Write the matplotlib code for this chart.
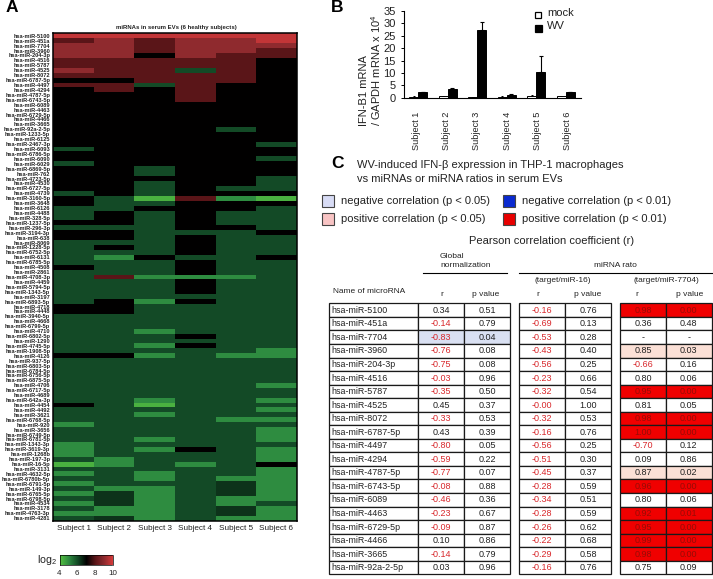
import matplotlib
matplotlib.use('Agg')
import numpy as np
import matplotlib.pyplot as plt
from matplotlib.colors import LinearSegmentedColormap
from matplotlib.patches import Rectangle

plt.rcParams['font.family'] = ['Liberation Sans', 'DejaVu Sans']
plt.rcParams['mathtext.default'] = 'regular'

W, H = 713, 579

# panel A
mirnas = ['5100', '451a', '7704', '3960', '204-3p', '4516', '5787', '4525', '8072', '6787-5p',
          '4497', '4294', '4787-5p', '6743-5p', '6089', '4463', '6729-5p', '4466', '3665', '92a-2-5p',
          '1233-5p', '6125', '2467-3p', '6093', '6786-5p', '6090', '6029', '6869-5p', '762', '4723-5p',
          '4530', '6727-5p', '4739', '3160-5p', '3648', '6126', '4488', '328-5p', '1237-5p', '296-3p',
          '3194-3p', '638', '8069', '1228-5p', '6752-5p', '6131', '6785-5p', '4508', '2861', '4708-3p',
          '4459', '5794-5p', '1343-5p', '3197', '6893-5p', '4718', '4448', '3940-5p', '4668', '6799-5p',
          '4710', '6802-5p', '1290', '4745-5p', '1908-5p', '4126', '937-5p', '6803-5p', '6784-5p', '6756-5p',
          '6875-5p', '4706', '6717-5p', '4689', '642a-3p', '4454', '4492', '3621', '6768-5p', '920',
          '3656', '6749-5p', '6781-5p', '1343-3p', '3619-3p', '1268b', '197-3p', '16-5p', '3131', '4632-5p',
          '6780b-5p', '6791-5p', '149-3p', '6765-5p', '6798-5p', '4534', '3178', '4763-3p', '4281']

subj1 = [9.7, 8, 9, 9, 9, 8, 8, 9, 8, 7,
         8, 7, 7, 7, 7, 7, 7, 7, 7, 7,
         7, 7, 7, 6, 7, 7, 6, 7, 7, 7,
         7, 7, 6, 7, 7, 6, 6, 6, 7, 6,
         7, 7, 6, 6, 6, 6, 6, 7, 6, 6,
         6, 6, 6, 6, 6, 7, 7, 6, 6, 6,
         6, 6, 6, 6, 6, 7, 6, 6, 6, 6,
         6, 6, 6, 6, 6, 7, 6, 6, 6, 5,
         6, 6, 6, 5, 5, 5, 6, 4.3, 6, 5,
         6, 5, 6, 5, 6, 5, 6, 5, 6]
subj2 = [9.7, 9, 9, 9, 9, 8, 8, 8, 8, 7,
         8, 8, 7, 7, 7, 7, 7, 7, 7, 7,
         7, 7, 7, 7, 7, 7, 7, 7, 7, 7,
         7, 7, 7, 6, 6, 6, 7, 7, 7, 6,
         7, 7, 6, 7, 6, 5, 6, 6, 6, 8,
         6, 6, 6, 6, 7, 7, 7, 6, 6, 6,
         6, 6, 6, 6, 6, 7, 6, 6, 6, 6,
         6, 6, 6, 6, 6, 6, 6, 6, 6, 6,
         6, 6, 6, 6, 6, 6, 5, 5, 6, 6,
         6, 6, 5, 6.3, 6.3, 6.3, 5, 5, 6.3]
subj3 = [9.7, 8, 8, 8, 7, 8, 8, 8, 8, 8,
         6, 7, 7, 7, 7, 7, 7, 7, 7, 7,
         7, 7, 7, 7, 7, 7, 7, 6, 6, 7,
         6, 6, 6, 4.3, 6, 7, 6, 6, 6, 6,
         6, 6, 6, 6, 6, 7, 6, 6, 6, 5,
         6, 6, 6, 6, 5, 6, 6, 6, 6, 6,
         5, 6, 6, 5, 6, 5, 6, 6, 6, 6,
         6, 6, 6, 6, 5, 4.3, 6, 5, 6, 6,
         6, 6, 5, 6, 5, 6, 6, 6, 6, 5,
         5, 6, 5, 5, 5, 5, 5, 5, 5]
subj4 = [9.7, 9, 9, 9, 9, 8, 8, 6, 8, 8,
         8, 8, 8, 8, 7, 7, 7, 7, 7, 7,
         7, 7, 7, 7, 7, 7, 7, 7, 7, 7,
         7, 7, 7, 8, 7, 7, 7, 7, 7, 7,
         6, 7, 7, 7, 7, 6, 7, 7, 7, 5,
         7, 7, 7, 6, 7, 6, 6, 6, 6, 6,
         6, 7, 6, 7, 6, 6, 6, 6, 6, 6,
         6, 6, 6, 6, 6, 6, 6, 6, 6, 6,
         6, 6, 6, 6, 7, 6, 6, 5, 6, 6,
         6, 6, 6, 6, 6, 6, 6, 6, 6]
subj5 = [9.7, 9, 9, 9, 8, 8, 8, 8, 8, 8,
         7, 7, 7, 7, 7, 7, 7, 7, 7, 6,
         7, 7, 7, 7, 7, 7, 7, 7, 7, 7,
         7, 6, 7, 5, 7, 7, 6, 6, 6, 7,
         6, 6, 6, 6, 6, 6, 6, 6, 6, 5,
         6, 6, 6, 6, 6, 6, 6, 6, 6, 6,
         6, 6, 6, 6, 6, 5, 6, 6, 6, 6,
         6, 6, 6, 6, 6, 6, 6, 6, 5, 6,
         6, 6, 6, 6, 6, 6, 6, 6, 6, 6,
         5, 6.3, 6.3, 6.3, 5, 5, 6.3, 6.3, 5]
subj6 = [9.7, 9.7, 9, 8, 8, 7, 7, 7, 7, 7,
         7, 7, 7, 7, 7, 7, 7, 7, 7, 7,
         7, 7, 6, 7, 7, 6, 7, 7, 7, 6,
         6, 6, 7, 4.3, 7, 6, 6, 6, 6, 6,
         7, 6, 6, 6, 6, 7, 6, 6, 6, 6,
         6, 6, 6, 6, 6, 6, 6, 6, 6, 6,
         6, 6, 6, 6, 5, 5, 6, 6, 6, 6,
         6, 5, 6, 6, 5, 6, 5, 6, 5, 6,
         5, 5, 5, 6, 5, 5, 5, 7, 5, 5,
         5, 5, 5, 5, 5, 6, 5, 5, 5]
subjects = ['Subject 1', 'Subject 2', 'Subject 3', 'Subject 4', 'Subject 5', 'Subject 6']

# panel B
mock = [0.4, 0.6, 0.3, 0.4, 0.7, 0.7]
mock_err = [0.1, 0.1, 0.1, 0.1, 0.3, 0.1]
wv = [2.1, 3.4, 27.2, 1.2, 10.3, 2.2]
wv_err = [0.4, 0.6, 3.5, 0.3, 6.5, 0.3]

# panel C
table_names = ['5100', '451a', '7704', '3960', '204-3p', '4516', '5787', '4525', '8072', '6787-5p',
               '4497', '4294', '4787-5p', '6743-5p', '6089', '4463', '6729-5p', '4466', '3665', '92a-2-5p']
r_global = ['0.34', '-0.14', '-0.83', '-0.76', '-0.75', '-0.03', '-0.35', '0.45', '-0.33', '0.43',
            '-0.80', '-0.59', '-0.77', '-0.08', '-0.46', '-0.23', '-0.09', '0.10', '-0.14', '0.03']
p_global = ['0.51', '0.79', '0.04', '0.08', '0.08', '0.96', '0.50', '0.37', '0.53', '0.39',
            '0.05', '0.22', '0.07', '0.88', '0.36', '0.67', '0.87', '0.86', '0.79', '0.96']
r_16 = ['-0.16', '-0.69', '-0.53', '-0.43', '-0.56', '-0.23', '-0.32', '-0.00', '-0.32', '-0.16',
        '-0.56', '-0.51', '-0.45', '-0.28', '-0.34', '-0.28', '-0.26', '-0.22', '-0.29', '-0.16']
p_16 = ['0.76', '0.13', '0.28', '0.40', '0.25', '0.66', '0.54', '1.00', '0.53', '0.76',
        '0.25', '0.30', '0.37', '0.59', '0.51', '0.59', '0.62', '0.68', '0.58', '0.76']
r_7704 = ['0.98', '0.36', '-', '0.85', '-0.66', '0.80', '0.95', '0.81', '0.98', '1.00',
          '-0.70', '0.09', '0.87', '0.96', '0.80', '0.92', '0.95', '0.99', '0.98', '0.75']
p_7704 = ['0.00', '0.48', '-', '0.03', '0.16', '0.06', '0.00', '0.05', '0.00', '0.00',
          '0.12', '0.86', '0.02', '0.00', '0.06', '0.01', '0.00', '0.00', '0.00', '0.09']
shade_global = ['', '', 'neg', '', '', '', '', '', '', '',
                '', '', '', '', '', '', '', '', '', '']
shade_7704 = ['red', '', '', 'pos', '', '', 'red', '', 'red', 'red',
              '', '', 'pos', 'red', '', 'red', 'red', 'red', 'red', '']

fig = plt.figure(figsize=(W / 100, H / 100), dpi=100)


def px_axes(x0, y0, x1, y1):
    return fig.add_axes([x0 / W, 1 - y1 / H, (x1 - x0) / W, (y1 - y0) / H])


# overlay in pixel coordinates for the loose text and the table
ov = fig.add_axes([0, 0, 1, 1], zorder=5)
ov.set_xlim(0, W)
ov.set_ylim(H, 0)
ov.axis('off')
ov.patch.set_alpha(0)

for letter, x, y in [('A', 6, 8), ('B', 331, 7), ('C', 331, 163)]:
    ov.text(x, y, letter, fontsize=12.5, fontweight='bold', ha='left', va='center')

# A: heatmap
cmap = LinearSegmentedColormap.from_list('gbr', [
    (0, '#55c040'), (1 / 6, '#2e8b40'), (2 / 6, '#134a26'), (3 / 6, '#000000'),
    (4 / 6, '#5a1518'), (5 / 6, '#8e2a2e'), (1, '#d63a3a')])
heat = np.array([subj1, subj2, subj3, subj4, subj5, subj6]).T
ax = px_axes(53.3, 33.3, 296.7, 520.7)
ax.pcolormesh(heat, cmap=cmap, vmin=4, vmax=10)
ax.set_ylim(len(mirnas), 0)
ax.set_xticks(np.arange(6) + 0.5)
ax.set_xticklabels(subjects, fontsize=5.9, color='#222222')
ax.set_yticks(np.arange(len(mirnas)) + 0.5)
ax.set_yticklabels(['hsa-miR-' + m for m in mirnas], fontsize=4.1, fontweight='bold', color='#222222')
ax.tick_params(length=0, pad=2.2)
ax.tick_params(axis='x', pad=3)
for s in ax.spines.values():
    s.set_linewidth(1.1)
ov.text(176, 27, 'miRNAs in serum EVs (6 healthy subjects)', fontsize=4.35, fontweight='bold',
        ha='center', va='center', color='#222222')

cax = px_axes(59.5, 555, 112.5, 565)
cax.imshow(np.linspace(4, 10, 256)[None, :], cmap=cmap, vmin=4, vmax=10, aspect='auto', extent=[4, 10, 0, 1])
cax.set_yticks([])
cax.set_xticks([4, 6, 8, 10])
cax.tick_params(length=0, labelsize=5.8, pad=3.5, labelcolor='#222222')
for s in cax.spines.values():
    s.set_linewidth(0.5)
ov.text(37, 560, 'log$_2$', fontsize=7.6, ha='left', va='center', color='#222222')

# B: bars
bx = px_axes(404.3, 11, 580.7, 97.7)
pos = np.arange(6)
bw = 0.305
bx.bar(pos - bw / 2, mock, bw, color='white', edgecolor='black', linewidth=0.7,
       yerr=[np.zeros(6), mock_err], error_kw=dict(ecolor='black', lw=0.7, capsize=1, capthick=0.7))
bx.bar(pos + bw / 2, wv, bw, color='black', edgecolor='black', linewidth=0.7,
       yerr=[np.zeros(6), wv_err], error_kw=dict(ecolor='black', lw=0.8, capsize=1.2, capthick=0.8))
bx.set_xlim(-0.4746, 5.505)
bx.set_ylim(0, 35)
bx.set_yticks(np.arange(0, 36, 5))
bx.set_xticks(pos * 1.027 - 0.068)
bx.set_xticklabels(subjects, rotation=90, fontsize=6.6, color='#222222')
bx.tick_params(axis='y', labelsize=8, length=2, width=0.7, pad=4, labelcolor='#222222')
bx.tick_params(axis='x', length=0, pad=10)
bx.spines[['top', 'right']].set_visible(False)
for s in ['left', 'bottom']:
    bx.spines[s].set_linewidth(0.8)
ov.text(364, 126, 'IFN-B1 mRNA', fontsize=8, rotation=90, ha='center', va='bottom', color='#222222')
ov.text(376, 126, '/ GAPDH mRNA x 10$^4$', fontsize=8, rotation=90, ha='center', va='bottom', color='#222222')
ov.add_patch(Rectangle((535, 12), 6, 6, facecolor='white', edgecolor='black', linewidth=0.9))
ov.add_patch(Rectangle((534.5, 25), 7, 7, facecolor='black', edgecolor='black', linewidth=0.9))
ov.text(547, 12.5, 'mock', fontsize=8, ha='left', va='center', color='#222222')
ov.text(547, 26, 'WV', fontsize=8, ha='left', va='center', color='#222222')

# C: heading and key
ov.text(357, 165.5, 'WV-induced IFN-\u03b2 expression in THP-1 macrophages', fontsize=8, ha='left', va='center', color='#222222')
ov.text(357, 179.5, 'vs miRNAs or miRNA ratios in serum EVs', fontsize=8, ha='left', va='center', color='#222222')
key = [(322, 195, '#d8dcf5', 'negative correlation (p < 0.05)'),
       (322, 213, '#f8c4c4', 'positive correlation (p < 0.05)'),
       (502.5, 195, '#0a2ad0', 'negative correlation (p < 0.01)'),
       (502.5, 213, '#e80000', 'positive correlation (p < 0.01)')]
for x, y, col, label in key:
    ov.add_patch(Rectangle((x, y), 12, 12, facecolor=col, edgecolor='#444444', linewidth=0.8))
    ov.text(x + 19, y + 6.3, label, fontsize=8, ha='left', va='center', color='#222222')
ov.text(552, 241, 'Pearson correlation coefficient (r)', fontsize=8, ha='center', va='center', color='#222222')

# C: table header
hc = '#222222'
ov.text(440, 256.7, 'Global', fontsize=6, ha='left', va='center', color=hc)
ov.text(440, 265.7, 'normalization', fontsize=6, ha='left', va='center', color=hc)
ov.text(615, 265.7, 'miRNA rato', fontsize=6, ha='center', va='center', color=hc)
ov.plot([423.3, 507.3], [273, 273], color='black', lw=0.8)
ov.plot([519, 711.7], [273, 273], color='black', lw=0.8)
ov.text(562.7, 281, '(target/miR-16)', fontsize=6, ha='center', va='center', color=hc)
ov.text(666, 280.3, '(target/miR-7704)', fontsize=6, ha='center', va='center', color=hc)
ov.text(333, 291.3, 'Name of microRNA', fontsize=6, ha='left', va='center', color=hc)
for x, label in [(441.7, 'r'), (485.7, 'p value'), (538, 'r'), (588, 'p value'), (637, 'r'), (690, 'p value')]:
    ov.text(x, 294, label, fontsize=6, ha='center', va='center', color=hc)

# C: table body
col_edges = [(329.3, 418.3), (418.3, 464.3), (464.3, 510), (519, 565), (565, 611), (620, 666), (666, 711.7)]
columns = [None, r_global, p_global, r_16, p_16, r_7704, p_7704]
shades = [None, shade_global, shade_global, None, None, shade_7704, shade_7704]
fills = {'neg': '#d9e0f2', 'pos': '#fbe0d6', 'red': '#f00000'}
top = 303.3
rh = 13.55
for i, name in enumerate(table_names):
    y = top + i * rh
    for (x0, x1), vals, shade in zip(col_edges, columns, shades):
        fc = 'white'
        if shade is not None and shade[i]:
            fc = fills[shade[i]]
        ov.add_patch(Rectangle((x0, y), x1 - x0, rh, facecolor=fc, edgecolor='#1a1a1a', linewidth=0.9))
        if vals is None:
            ov.text(x0 + 2.5, y + rh / 2 + 0.2, 'hsa-miR-' + name, fontsize=6.4, ha='left', va='center', color='#222222')
        else:
            col = '#222222'
            if vals[i].startswith('-0'):
                col = '#d8282c'
            if shade is not None and shade[i] == 'red':
                col = '#960c06'
            ov.text((x0 + x1) / 2, y + rh / 2 + 0.2, vals[i], fontsize=6.5, ha='center', va='center', color=col)

fig.savefig('out.png', dpi=100)
